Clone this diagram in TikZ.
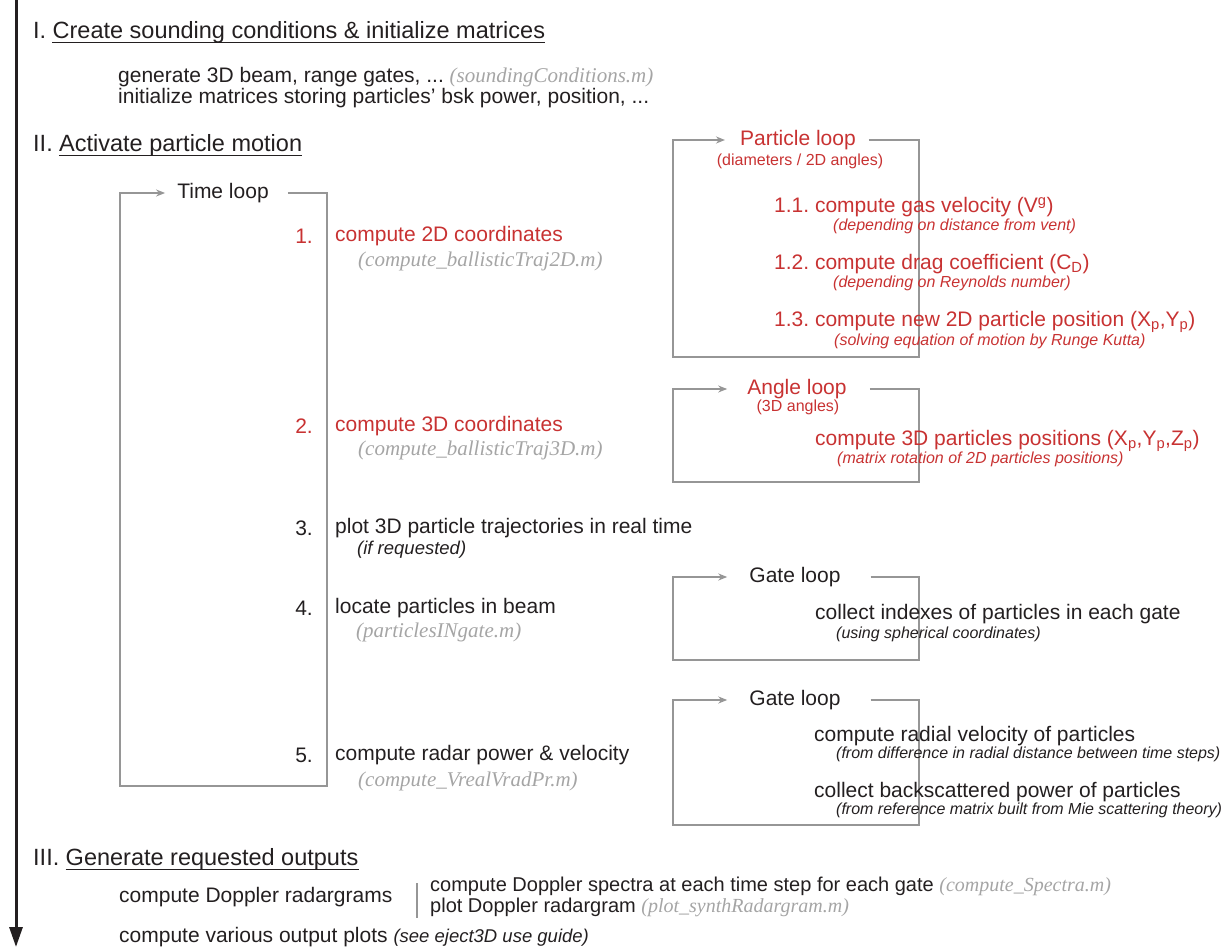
\documentclass[tikz,border=0pt]{standalone}
\usepackage{fontspec}
\setmainfont{Liberation Sans}
\newfontfamily\tms{Liberation Serif}
\usetikzlibrary{arrows.meta,calc}
\frenchspacing
\definecolor{txt}{RGB}{35,31,32}
\definecolor{redt}{RGB}{200,50,50}
\definecolor{lgray}{RGB}{150,150,150}
\definecolor{fgray}{RGB}{165,165,165}
\tikzset{
  t/.style={anchor=west,inner sep=0pt,text=txt,font=\fontsize{21}{24}\selectfont},
  tr/.style={t,text=redt},
  hd/.style={anchor=base west,inner sep=0pt,text=txt,font=\fontsize{23.5}{26}\selectfont},
  fn/.style={anchor=west,inner sep=0pt,text=fgray,font=\tms\itshape\fontsize{21}{24}\selectfont},
  sm/.style={anchor=west,inner sep=0pt,text=txt,font=\itshape\fontsize{16}{18}\selectfont},
  smr/.style={sm,text=redt},
  loopline/.style={draw=lgray,line width=2.2pt},
  looparr/.style={loopline,-{Stealth[length=9pt,width=7pt]}},
  ttl/.style={anchor=center,inner sep=0pt,text=txt,font=\fontsize{21}{24}\selectfont},
  ttlr/.style={ttl,text=redt},
  ulin/.style={draw=txt,line width=1pt}
}
\begin{document}
\begin{tikzpicture}[x=1pt,y=-1pt]
\useasboundingbox (0,0) rectangle (1227,947);
% main arrow
\coordinate (ma) at (16,0);
\coordinate (mb) at (16,947);
\draw[line width=3pt,txt,-{Triangle[length=20pt,width=13pt]}] (ma) -- (mb);

% Section I
\node[hd] (h1a) at (33,39) {I.\kern6pt};
\node[hd] (h1) at (h1a.base east) {Create sounding conditions \& initialize matrices};
\draw[ulin] ($(h1.base west)+(0,4)$) -- ($(h1.base east)+(0,4)$);
\node[t] (g1) at (118,77) {generate 3D beam, range gates, ... {\color{fgray}\tms\itshape (soundingConditions.m)}};
\node[t] (g2) at (118,98) {initialize matrices storing particles’ bsk power, position, ...};

% Section II
\node[hd] (h2a) at (33,152) {II.\kern6pt};
\node[hd] (h2) at (h2a.base east) {Activate particle motion};
\draw[ulin] ($(h2.base west)+(0,4)$) -- ($(h2.base east)+(0,4)$);

% Time loop
\node[ttl] (tl) at (223,193) {Time loop};
\coordinate (tlr) at (327,193);
\draw[looparr] ($(tl.east)+(19,0)$) -- (tlr) -- (327,786) -- (120,786) -- (120,193) -- ($(tl.west)+(-12,0)$);

\node[tr,anchor=east] (n1) at (313,236) {1.};
\node[tr] (s1) at (335,236) {compute 2D coordinates};
\node[fn] (f1) at (358,261) {(compute\_ballisticTraj2D.m)};
\node[tr,anchor=east] (n2) at (313,426) {2.};
\node[tr] (s2) at (335,426) {compute 3D coordinates};
\node[fn] (f2) at (358,450) {(compute\_ballisticTraj3D.m)};
\node[t,anchor=east] (n3) at (313,528) {3.};
\node[t] (s3) at (335,528) {plot 3D particle trajectories in real time};
\node[sm,font=\itshape\fontsize{18.5}{20}\selectfont] (f3) at (357,550) {(if requested)};
\node[t,anchor=east] (n4) at (313,608) {4.};
\node[t] (s4) at (335,608) {locate particles in beam};
\node[fn] (f4) at (356,632) {(particlesINgate.m)};
\node[t,anchor=east] (n5) at (313,755) {5.};
\node[t] (s5) at (335,755) {compute radar power \& velocity};
\node[fn] (f5) at (358,781) {(compute\_VrealVradPr.m)};

% Particle loop
\node[ttlr] (pl) at (798,140) {Particle loop};
\node[smr,anchor=center,font=\fontsize{16}{18}\selectfont] (pls) at (800,161) {(diameters / 2D angles)};
\draw[looparr] ($(pl.east)+(13,0)$) -- (919,140) -- (919,357) -- (673,357) -- (673,140) -- ($(pl.west)+(-15,0)$);
\node[tr] (p1) at (774,207) {1.1. compute gas velocity (V\textsuperscript{g})};
\node[smr] (p1s) at (833,226) {(depending on distance from vent)};
\node[tr] (p2) at (774,264) {1.2. compute drag coefficient (C\textsubscript{D})};
\node[smr] (p2s) at (833,283) {(depending on Reynolds number)};
\node[tr] (p3) at (774,322) {1.3. compute new 2D particle position (X\textsubscript{p},Y\textsubscript{p})};
\node[smr] (p3s) at (834,341) {(solving equation of motion by Runge Kutta)};

% Angle loop
\node[ttlr] (al) at (797,389) {Angle loop};
\node[smr,anchor=center,font=\fontsize{16}{18}\selectfont] (als) at (798,407) {(3D angles)};
\draw[looparr] ($(al.east)+(23,0)$) -- (919,389) -- (919,482) -- (673,482) -- (673,389) -- ($(al.west)+(-20,0)$);
\node[tr] (a1) at (815,441) {compute 3D particles positions (X\textsubscript{p},Y\textsubscript{p},Z\textsubscript{p})};
\node[smr] (a1s) at (837,459) {(matrix rotation of 2D particles positions)};

% Gate loop 1
\node[ttl] (gl1) at (795,577) {Gate loop};
\draw[looparr] ($(gl1.east)+(30,0)$) -- (919,577) -- (919,660) -- (673,660) -- (673,577) -- ($(gl1.west)+(-22,0)$);
\node[t] (c1) at (815,614) {collect indexes of particles in each gate};
\node[sm] (c1s) at (836,634) {(using spherical coordinates)};

% Gate loop 2
\node[ttl] (gl2) at (795,700) {Gate loop};
\draw[looparr] ($(gl2.east)+(30,0)$) -- (919,700) -- (919,825) -- (673,825) -- (673,700) -- ($(gl2.west)+(-22,0)$);
\node[t] (r1) at (814,736) {compute radial velocity of particles};
\node[sm] (r1s) at (836,754) {(from difference in radial distance between time steps)};
\node[t] (r2) at (814,792) {collect backscattered power of particles};
\node[sm] (r2s) at (836,810) {(from reference matrix built from Mie scattering theory)};

% Section III
\node[hd] (h3a) at (33,865) {III.\kern6pt};
\node[hd] (h3) at (h3a.base east) {Generate requested outputs};
\draw[ulin] ($(h3.base west)+(0,4)$) -- ($(h3.base east)+(0,4)$);
\node[t] (d1) at (119,897) {compute Doppler radargrams};
\coordinate (sa) at (417,883);
\coordinate (sb) at (417,918);
\draw[draw=lgray,line width=1.8pt] (sa) -- (sb);
\node[t,font=\fontsize{20}{23}\selectfont] (d2) at (430,886) {compute Doppler spectra at each time step for each gate {\color{fgray}\tms\itshape (compute\_Spectra.m)}};
\node[t,font=\fontsize{20}{23}\selectfont] (d3) at (430,907) {plot Doppler radargram {\color{fgray}\tms\itshape (plot\_synthRadargram.m)}};
\node[t] (d4) at (119,937) {compute various output plots {\itshape\fontsize{18.5}{20}\selectfont (see eject3D use guide)}};
\end{tikzpicture}
\end{document}
